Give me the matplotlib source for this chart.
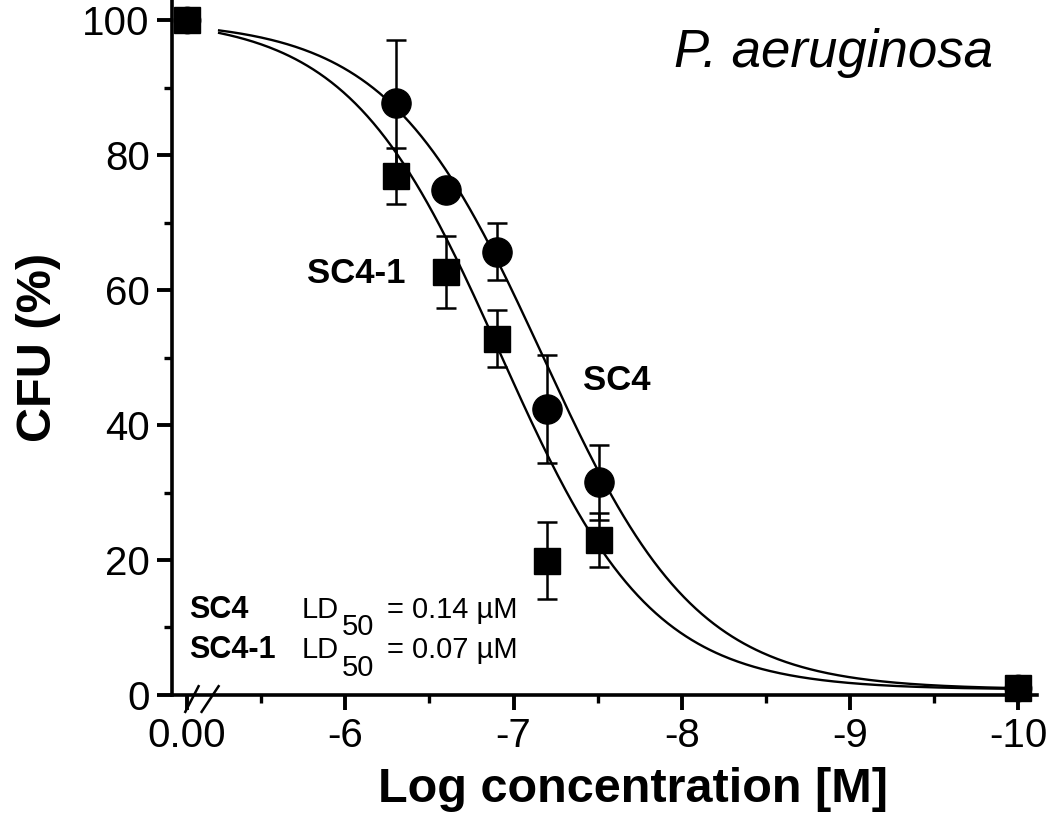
import numpy as np
import matplotlib
matplotlib.use("Agg")
import matplotlib.pyplot as plt

plt.rcParams['font.family'] = ['Liberation Sans', 'DejaVu Sans']

# data
log_conc = [-6.30, -6.60, -6.90, -7.20, -7.51]
sc4_cfu = [87.8, 74.9, 65.7, 42.4, 31.5]
sc4_err = [9.3, 1.0, 4.2, 8.0, 5.5]
sc41_cfu = [76.9, 62.7, 52.8, 19.9, 22.9]
sc41_err = [4.2, 5.3, 4.2, 5.7, 4.0]
ctrl_pos = -5.06          # position of the untreated control ("0.00") on the broken axis
ctrl_cfu = 100.0
end_conc = -10.0
end_cfu = 1.0

# Boltzmann fit parameters: centre (-log M), width, top, bottom
sc4_fit = (7.17, 0.46, 100.0, 0.8)
sc41_fit = (6.92, 0.45, 100.5, 0.8)


def boltz(x, t0, dx, top, bottom):
    return bottom + (top - bottom) / (1 + np.exp((-x - t0) / dx))


fig = plt.figure(figsize=(10.5, 8.33), dpi=100)
ax = fig.add_axes([0.1638, 0.1657, 0.8238, 0.8343])

xs = np.linspace(-5.25, -10.0, 400)
ax.plot(xs, boltz(xs, *sc4_fit), color='black', lw=1.7)
ax.plot(xs, boltz(xs, *sc41_fit), color='black', lw=1.7)

ax.errorbar(log_conc, sc4_cfu, yerr=sc4_err, fmt='o', color='black', ms=21,
            capsize=7, elinewidth=1.8, capthick=1.8)
ax.errorbar(log_conc, sc41_cfu, yerr=sc41_err, fmt='s', color='black', ms=19,
            capsize=7, elinewidth=1.8, capthick=1.8)
ax.plot([ctrl_pos, end_conc], [ctrl_cfu, end_cfu], 'o', color='black', ms=19, clip_on=False)
ax.plot([ctrl_pos, end_conc], [ctrl_cfu, end_cfu], 's', color='black', ms=19, clip_on=False)

ax.set_xlim(-4.97, -10.11)
ax.set_ylim(0, 103)

ax.set_xticks([ctrl_pos, -6, -7, -8, -9, -10])
ax.set_xticklabels(['0.00', '-6', '-7', '-8', '-9', '-10'])
ax.set_xticks([-5.5, -6.5, -7.5, -8.5, -9.5], minor=True)
ax.set_yticks([0, 20, 40, 60, 80, 100])
ax.set_yticks([10, 30, 50, 70, 90], minor=True)

for s in ['top', 'right']:
    ax.spines[s].set_visible(False)
for s in ['left', 'bottom']:
    ax.spines[s].set_linewidth(2.6)
ax.tick_params(which='major', direction='out', length=11, width=2.8, labelsize=29, pad=5)
ax.tick_params(which='minor', direction='out', length=6, width=2.4)

ax.set_xlabel('Log concentration [M]', fontsize=35, fontweight='bold')
ax.xaxis.set_label_coords(0.533, -0.103)
ax.set_ylabel('CFU (%)', fontsize=35, fontweight='bold')
ax.yaxis.set_label_coords(-0.128, 0.5)

# axis break marks
for x0, x1 in [(-5.049, -5.128), (-5.146, -5.247)]:
    ax.plot([x0, x1], [-2.5, 1.3], color='black', lw=1.8, clip_on=False)

ax.text(-9.85, 93.1, 'P. aeruginosa', fontsize=38, style='italic', ha='right', va='baseline')
ax.text(-6.36, 62.5, 'SC4-1', fontsize=25, fontweight='bold', ha='right', va='center')
ax.text(-7.415, 46.6, 'SC4', fontsize=25, fontweight='bold', ha='left', va='center')

rows = [('SC4', '0.14', 12.6), ('SC4-1', '0.07', 6.6)]
for name, ld, yy in rows:
    ax.text(-5.069, yy, name, fontsize=22, fontweight='bold', ha='left', va='center')
    ax.text(-5.74, yy, 'LD', fontsize=21, ha='left', va='center')
    ax.text(-5.978, yy - 2.6, '50', fontsize=21, ha='left', va='center')
    ax.text(-6.245, yy, '= ' + ld + ' µM', fontsize=21, ha='left', va='center')

fig.savefig('out.png', dpi=100)
